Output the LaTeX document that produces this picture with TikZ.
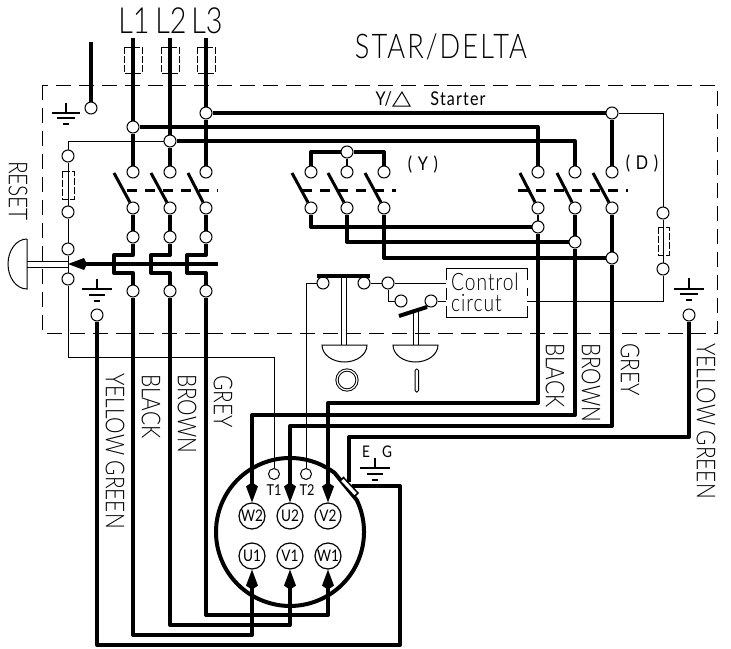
\documentclass[tikz,border=0pt]{standalone}
\usepackage{fontspec}
\newfontfamily\cadfont[FakeStretch=0.8,UprightFont=* Light]{Lato}
\newfontfamily\pinfont[FakeStretch=0.85]{Lato}
\usetikzlibrary{arrows.meta}
\tikzset{
  term/.style={circle,draw,fill=white,line width=1pt,minimum size=12pt,inner sep=0pt},
  pin/.style={circle,draw,fill=white,line width=1.2pt,minimum size=26pt,inner sep=0pt,font=\pinfont\fontsize{16}{16}\selectfont},
  wire/.style={line width=4pt,line join=round},
  thin wire/.style={line width=1pt},
  blade/.style={line width=3pt},
  link/.style={line width=3pt,dash pattern=on 10pt off 8pt},
  frame/.style={line width=1pt,dash pattern=on 15pt off 8pt},
  fuse/.style={line width=1pt,dash pattern=on 7pt off 2pt},
  plug/.style={-{Kite[length=20pt,width=12pt,inset=4pt]}},
  txt/.style={inner sep=0pt,font=\cadfont\fontsize{#1}{#1}\selectfont},
  pintxt/.style={inner sep=0pt,font=\pinfont\fontsize{#1}{#1}\selectfont},
  colour/.style={inner sep=0pt,rotate=-90,font=\cadfont\fontsize{26}{26}\selectfont}
}
\begin{document}
\begin{tikzpicture}[x=1pt,y=-1pt]
\useasboundingbox (0,0) rectangle (731,648);
% enclosure
\draw[frame] (42,85) rectangle (717,333);
% labels
\node[txt=36] (La) at (134,21) {L1};
\node[txt=36] (Lb) at (171,21) {L2};
\node[txt=36] (Lc) at (207,21) {L3};
\node[txt=34] (title) at (441,47) {\addfontfeature{LetterSpace=6}STAR/DELTA};
\node[pintxt=19,anchor=east] (yd) at (392,99) {Y/};
\node[pintxt=19] (starter) at (458,99) {\addfontfeature{LetterSpace=6}Starter};
\draw[line width=1pt] (393,106) -- (410,106) -- (402,92) -- cycle;
\node[pintxt=19] (ytxt) at (423,165) {\addfontfeature{LetterSpace=8}( Y )};
\node[pintxt=19] (dtxt) at (642,164) {\addfontfeature{LetterSpace=8}( D )};
\node[colour] (reset) at (18,191) {RESET};
\node[colour,anchor=west] (yga) at (115,373) {YELLOW GREEN};
\node[colour,anchor=west] (bka) at (151,374) {BLACK};
\node[colour,anchor=west] (bra) at (187,374) {BROWN};
\node[colour,anchor=west] (gra) at (223,375) {GREY};
\node[colour,anchor=west] (bkb) at (555,343) {BLACK};
\node[colour,anchor=west] (brb) at (591,343) {BROWN};
\node[colour,anchor=west] (grb) at (630,343) {GREY};
\node[colour,anchor=west] (ygb) at (706,343) {YELLOW GREEN};
\node[txt=24,anchor=base west] (ctrla) at (451,290) {\addfontfeature{LetterSpace=4}Control};
\node[txt=24,anchor=base west] (ctrlb) at (451,311) {\addfontfeature{LetterSpace=4}circut};
\node[pintxt=16] (E) at (366,452) {E};
\node[pintxt=16] (G) at (387,452) {G};
\node[pintxt=15] (tta) at (274,490) {T1};
\node[pintxt=15] (ttb) at (307,490) {T2};
% line side
\coordinate (Ea) at (133,38);
\coordinate (Eb) at (170,38);
\coordinate (Ec) at (206,38);
\coordinate (Gt) at (91,42);
\node[term] (Gr) at (91,108) {};
\node[term] (Ja) at (133,127) {};
\node[term] (Jb) at (170,141) {};
\node[term] (Jc) at (206,113) {};
\node[term] (Sa) at (133,172) {};
\node[term] (Sb) at (170,172) {};
\node[term] (Sc) at (206,172) {};
\node[term] (Ta) at (133,208) {};
\node[term] (Tb) at (170,208) {};
\node[term] (Tc) at (206,208) {};
\node[term] (Ha) at (133,237) {};
\node[term] (Hb) at (170,237) {};
\node[term] (Hc) at (206,237) {};
\node[term] (Oa) at (133,291) {};
\node[term] (Ob) at (170,291) {};
\node[term] (Oc) at (206,291) {};
% star contacts
\node[term] (Yj) at (347,152) {};
\node[term] (Ya) at (311,172) {};
\node[term] (Yb) at (347,172) {};
\node[term] (Yc) at (384,172) {};
\node[term] (Za) at (311,208) {};
\node[term] (Zb) at (347,208) {};
\node[term] (Zc) at (384,208) {};
% delta contacts
\node[term] (Dt) at (612,113) {};
\node[term] (Da) at (538,172) {};
\node[term] (Db) at (575,172) {};
\node[term] (Dc) at (612,172) {};
\node[term] (Fa) at (538,208) {};
\node[term] (Fb) at (575,208) {};
\node[term] (Fc) at (612,208) {};
\node[term] (Ka) at (538,227) {};
\node[term] (Kb) at (575,242) {};
\node[term] (Kc) at (612,258) {};
% control fuses and buttons
\node[term] (Ra) at (68,156) {};
\node[term] (Rb) at (68,212) {};
\node[term] (Rc) at (68,249) {};
\node[term] (Rd) at (68,279) {};
\node[term] (Qa) at (663,213) {};
\node[term] (Qb) at (663,269) {};
\node[term] (Pa) at (323,283) {};
\node[term] (Pb) at (364,283) {};
\node[term] (Pc) at (388,283) {};
\node[term] (Pd) at (401,301) {};
\node[term] (Pe) at (431,301) {};
% earth terminals
\node[term] (Gl) at (97,315) {};
\node[term] (Gs) at (689,315) {};
% motor
\node[term,minimum size=11pt] (Ma) at (274,474) {};
\node[term,minimum size=11pt] (Mb) at (306,474) {};
\node[pin] (W2) at (252,516) {W2};
\node[pin] (U2) at (290,516) {U2};
\node[pin] (V2) at (328,516) {V2};
\node[pin] (U1) at (252,556) {U1};
\node[pin] (V1) at (290,556) {V1};
\node[pin] (W1) at (328,556) {W1};
% bends
\coordinate (Ba) at (538,403);
\coordinate (Bb) at (575,415);
\coordinate (Bc) at (612,426);
\coordinate (Ca) at (133,635);
\coordinate (Cb) at (170,625);
\coordinate (Cc) at (206,615);
\coordinate (Xa) at (97,645);
\coordinate (Xb) at (400,645);
\coordinate (Xc) at (400,486);
\coordinate (Xd) at (352,486);
\coordinate (Xe) at (689,437);
\coordinate (Xf) at (349,437);
\coordinate (Xg) at (349,482);
\coordinate (Tr) at (68,357);
\coordinate (Rs) at (68,264);
\coordinate (Re) at (218,264);
\coordinate (Ci) at (446,283);
\coordinate (Cj) at (446,301);
\coordinate (Ck) at (527,301);
% main wires
\draw[wire] (Gt) -- (Gr);
\draw[wire] (Ea) -- (Ja) -- (Sa);
\draw[wire] (Eb) -- (Jb) -- (Sb);
\draw[wire] (Ec) -- (Jc) -- (Sc);
\draw[wire] (Ja) -| (Da);
\draw[wire] (Jb) -| (Db);
\draw[wire] (Jc) -- (Dt) -- (Dc);
\draw[wire] (Ya) |- (Yj);
\draw[wire] (Yc) |- (Yj);
\draw[line width=1.5pt] (Yj) -- (Yb);
\draw[wire] (Za) |- (Ka);
\draw[wire] (Zb) |- (Kb);
\draw[wire] (Zc) |- (Kc);
\draw[line width=2pt] (Fa) -- (Ka);
\draw[wire] (Fb) -- (Kb);
\draw[wire] (Fc) -- (Kc);
\draw[wire,plug] (Ka) -- (Ba) -| (V2);
\draw[wire,plug] (Kb) -- (Bb) -| (W2);
\draw[wire,plug] (Kc) -- (Bc) -| (U2);
\draw[wire,plug] (Oa) -- (Ca) -| (U1);
\draw[wire,plug] (Ob) -- (Cb) -| (V1);
\draw[wire,plug] (Oc) -- (Cc) -| (W1);
\draw[wire] (Gl) -- (Xa) -- (Xb) -- (Xc) -- (Xd);
\draw[wire] (Gs) -- (Xe) -- (Xf) -- (Xg);
% thermal relay
\draw[wire] (Ta) -- (Ha);
\draw[wire] (Tb) -- (Hb);
\draw[wire] (Tc) -- (Hc);
\draw[wire] (Ha) -- (133,255) -- (114,255) -- (114,273) -- (133,273) -- (Oa);
\draw[wire] (Hb) -- (170,255) -- (151,255) -- (151,273) -- (170,273) -- (Ob);
\draw[wire] (Hc) -- (206,255) -- (187,255) -- (187,273) -- (206,273) -- (Oc);
\draw[wire,{Kite[length=19pt,width=12pt,inset=3pt]}-] (Rs) -- (Re);
% control wires
\draw[thin wire] (Jb) -| (Ra);
\draw[thin wire] (Ra) -- (Rb) -- (Rc) -- (Rd) -- (Tr) -| (Ma);
\draw[thin wire] (Mb) |- (Pa);
\draw[thin wire] (Pb) -- (Pc) -- (Ci);
\draw[thin wire] (Pc) |- (Pd);
\draw[thin wire] (Pe) -- (Cj);
\draw[thin wire] (Ck) -| (Qb);
\draw[thin wire] (Qb) -- (Qa) |- (Dt);
% fuses
\draw[fuse] (124,47) rectangle (142,73);
\draw[fuse] (161,47) rectangle (179,73);
\draw[fuse] (197,47) rectangle (215,73);
\draw[fuse] (62,171) rectangle (74,199);
\draw[fuse] (658,227) rectangle (669,255);
% switch blades
\coordinate (Aa) at (114,173);
\coordinate (Ab) at (151,173);
\coordinate (Ac) at (188,173);
\coordinate (Ad) at (292,173);
\coordinate (Ae) at (328,173);
\coordinate (Af) at (365,173);
\coordinate (Ag) at (520,173);
\coordinate (Ah) at (557,173);
\coordinate (Ai) at (593,173);
\draw[blade] (Aa) -- (Ta);
\draw[blade] (Ab) -- (Tb);
\draw[blade] (Ac) -- (Tc);
\draw[blade] (Ad) -- (Za);
\draw[blade] (Ae) -- (Zb);
\draw[blade] (Af) -- (Zc);
\draw[blade] (Ag) -- (Fa);
\draw[blade] (Ah) -- (Fb);
\draw[blade] (Ai) -- (Fc);
\draw[link] (127,190.5) -- (218,190.5);
\draw[link] (302,190.5) -- (396,190.5);
\draw[link] (518,190.5) -- (628,190.5);
% reset button
\draw[line width=1pt] (27,261) -- (68,261);
\draw[line width=1pt] (27,267) -- (68,267);
\draw[line width=1pt] (27,239) -- (27,289) arc[start angle=90,end angle=270,x radius=19,y radius=25];
% stop button
\draw[wire] (317,276) -- (370,276);
\draw[line width=1pt] (341,276) -- (341,345);
\draw[line width=1pt] (346,276) -- (346,345);
\draw[line width=1pt] (367,345) arc[start angle=0,end angle=180,x radius=22.5,y radius=17] -- cycle;
\node[circle,draw,line width=1pt,double,double distance=1.2pt,minimum size=20pt,inner sep=0pt] (stop) at (347,380) {};
% start button
\draw[blade,line width=4pt] (399,316) -- (427,307);
\draw[line width=1pt] (427,307) -- (Pe);
\draw[line width=1pt] (413,312) -- (413,345);
\draw[line width=1pt] (418,311) -- (418,345);
\draw[line width=1pt] (438,345) arc[start angle=0,end angle=180,x radius=22.5,y radius=17] -- cycle;
\draw[line width=1pt,rounded corners=1.5pt] (415,369) rectangle (418.5,392);
% control box
\draw[line width=1pt] (446,280) -- (446,268) -- (527,268) -- (527,280);
\draw[line width=1pt] (446,288) -- (446,300);
\draw[line width=1pt] (527,288) -- (527,296);
\draw[line width=1pt] (446,306) -- (446,317) -- (527,317) -- (527,306);
% earth symbols
\begin{scope}[shift={(66,103)}]
\draw[line width=1.5pt] (0,0) -- (0,10);
\draw[line width=1.5pt] (-14,10) -- (14,10);
\draw[line width=1.5pt] (-9,15) -- (9,15);
\draw[line width=2pt] (-3,21) -- (3,21);
\end{scope}
\begin{scope}[shift={(97,279)}]
\draw[line width=1.5pt] (0,0) -- (0,10);
\draw[line width=1.5pt] (-15,10) -- (15,10);
\draw[line width=1.5pt] (-8,16) -- (8,16);
\draw[line width=2pt] (-3,22) -- (3,22);
\end{scope}
\begin{scope}[shift={(689,278)}]
\draw[line width=1.5pt] (0,0) -- (0,11);
\draw[line width=1.5pt] (-15,11) -- (15,11);
\draw[line width=1.5pt] (-9,16) -- (9,16);
\draw[line width=2pt] (-3,22) -- (3,22);
\end{scope}
\begin{scope}[shift={(375,458)}]
\draw[line width=1.5pt] (0,0) -- (0,10);
\draw[line width=1.5pt] (-15,10) -- (15,10);
\draw[line width=1.5pt] (-8,16) -- (8,16);
\draw[line width=2pt] (-3,22) -- (3,22);
\end{scope}
% motor body
\draw[line width=4pt] (356.8,500.1) arc[start angle=-25.5,end angle=307,radius=74] -- cycle;
\draw[line width=1.5pt,fill=white] (343.5,477.5) -- (358,493) -- (354.5,496.5) -- (340,481) -- cycle;
\end{tikzpicture}
\end{document}
